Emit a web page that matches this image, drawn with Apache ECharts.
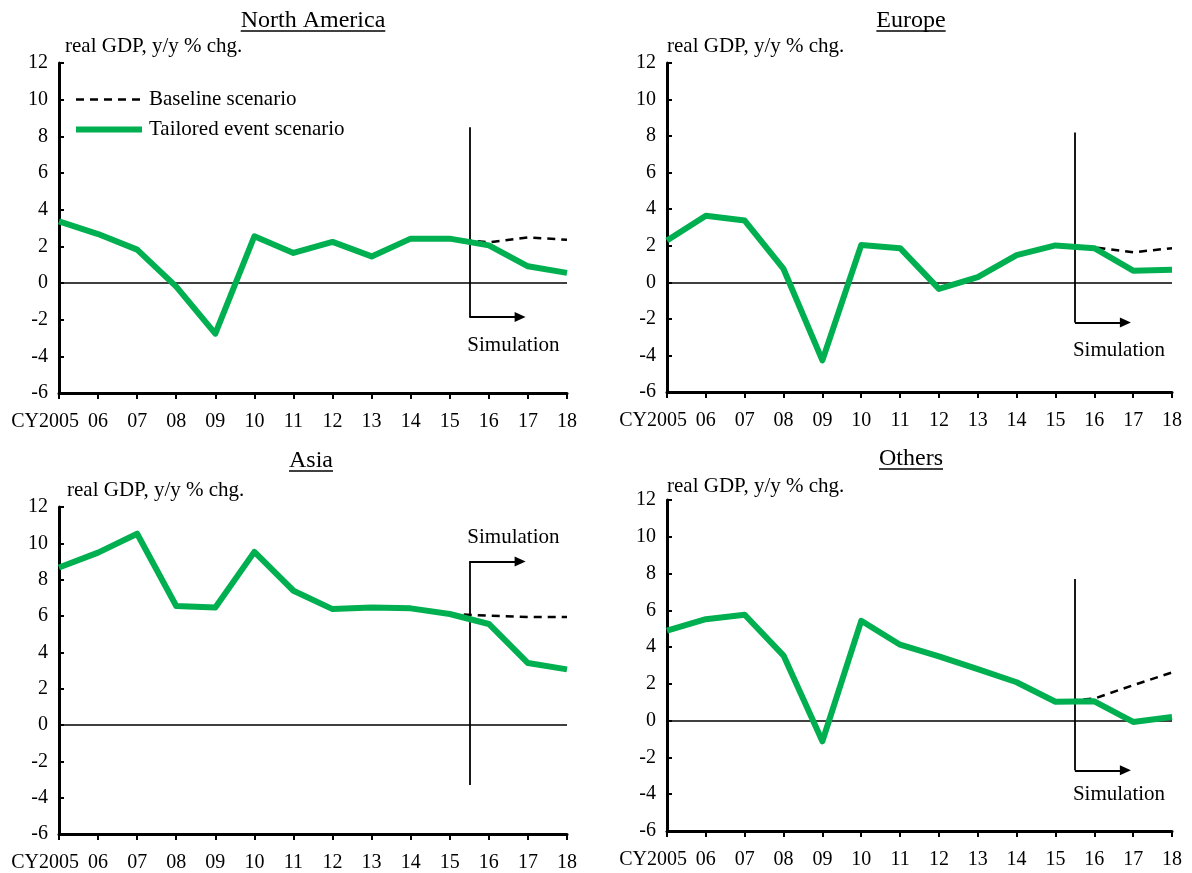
<!DOCTYPE html>
<html>
<head>
<meta charset="utf-8">
<script src="https://cdn.jsdelivr.net/npm/echarts@6/dist/echarts.min.js"></script>
<style>
  html, body { margin: 0; padding: 0; background: #fff; }
  #chart { width: 1192px; height: 873px; }
</style>
</head>
<body>
<div id="chart"></div>
<script>
// Calendar years on the horizontal axis and their tick labels
const years = [2005, 2006, 2007, 2008, 2009, 2010, 2011, 2012, 2013, 2014, 2015, 2016, 2017, 2018];
const yearLabels = ['2005', '06', '07', '08', '09', '10', '11', '12', '13', '14', '15', '16', '17', '18'];
const yearPrefix = 'CY';

// Real GDP, y/y % change — tailored event scenario
const naTailored = [3.36, 2.67, 1.82, -0.20, -2.76, 2.55, 1.64, 2.24, 1.45, 2.42, 2.42, 2.05, 0.91, 0.55];
const euTailored = [2.29, 3.64, 3.38, 0.73, -4.27, 2.04, 1.87, -0.36, 0.29, 1.49, 2.02, 1.87, 0.64, 0.69];
const asTailored = [8.67, 9.49, 10.53, 6.55, 6.47, 9.53, 7.39, 6.38, 6.47, 6.42, 6.11, 5.56, 3.41, 3.06];
const otTailored = [4.89, 5.52, 5.76, 3.54, -1.12, 5.43, 4.13, 3.50, 2.80, 2.09, 1.03, 1.05, -0.07, 0.20];

// Baseline scenario (only the simulation period differs from history)
const naBaseline = [null, null, null, null, null, null, null, null, null, null, 2.42, 2.22, 2.48, 2.36];
const euBaseline = [null, null, null, null, null, null, null, null, null, null, 2.02, 1.92, 1.64, 1.87];
const asBaseline = [null, null, null, null, null, null, null, null, null, null, 6.11, 6.02, 5.94, 5.94];
const otBaseline = [null, null, null, null, null, null, null, null, null, null, 1.03, 1.20, 1.93, 2.62];

// Y axis range and step
const yMin = -6, yMax = 12, yStep = 2;

// "Simulation" bracket: vertical line then arrow, in data units [year, value]
const naSimPath = [[2015.5, 8.5], [2015.5, -1.85], [2016.8, -1.85]];
const euSimPath = [[2015.5, 8.2], [2015.5, -2.2], [2016.8, -2.2]];
const asSimPath = [[2015.5, -3.3], [2015.5, 9.0], [2016.8, 9.0]];
const otSimPath = [[2015.5, 7.7], [2015.5, -2.7], [2016.8, -2.7]];
const naSimText = [2015.45, -3.4];
const euSimText = [2015.45, -3.75];
const asSimText = [2015.45, 10.3];
const otSimText = [2015.45, -4.0];

const FONT = '"Liberation Serif", "Times New Roman", serif';
const GREEN = '#00B050';
const INK = '#000';
const TICK_SIZE = 20;
const X_LABEL_MARGIN = 19;

function measure(str, size) {
  const ctx = document.createElement('canvas').getContext('2d');
  ctx.font = size + 'px ' + FONT;
  return ctx.measureText(str).width;
}

const panels = [
  { title: 'North America', tx: 313, ty: 21, ux: 65, uy: 46,
    grid: { left: 59, top: 63, width: 508, height: 330 },
    tailored: naTailored, baseline: naBaseline, sim: naSimPath, simText: naSimText },
  { title: 'Europe', tx: 911, ty: 21, ux: 667, uy: 46,
    grid: { left: 667, top: 63, width: 505, height: 329 },
    tailored: euTailored, baseline: euBaseline, sim: euSimPath, simText: euSimText },
  { title: 'Asia', tx: 311, ty: 461, ux: 67, uy: 490,
    grid: { left: 59, top: 507, width: 508, height: 327 },
    tailored: asTailored, baseline: asBaseline, sim: asSimPath, simText: asSimText },
  { title: 'Others', tx: 911, ty: 459, ux: 667, uy: 486,
    grid: { left: 667, top: 500, width: 505, height: 331 },
    tailored: otTailored, baseline: otBaseline, sim: otSimPath, simText: otSimText }
];

const grids = [], xAxes = [], yAxes = [], series = [], graphics = [];

panels.forEach((p, i) => {
  grids.push(p.grid);

  xAxes.push({
    type: 'value', gridIndex: i, min: years[0], max: years[years.length - 1], interval: 1,
    axisLine: { onZero: false, lineStyle: { color: INK, width: 3 } },
    axisTick: { show: true, inside: false, length: 6, lineStyle: { color: INK, width: 2 } },
    splitLine: { show: false },
    axisLabel: {
      margin: X_LABEL_MARGIN, color: INK, fontFamily: FONT, fontSize: TICK_SIZE,
      showMinLabel: true, showMaxLabel: true,
      formatter: v => yearLabels[years.indexOf(Math.round(v))]
    }
  });

  yAxes.push({
    type: 'value', gridIndex: i, min: yMin, max: yMax, interval: yStep,
    axisLine: { show: true, onZero: false, lineStyle: { color: INK, width: 3 } },
    axisTick: { show: true, inside: true, length: 5, lineStyle: { color: INK, width: 2 } },
    splitLine: { show: false },
    axisLabel: { margin: 11, color: INK, fontFamily: FONT, fontSize: TICK_SIZE }
  });

  const simMarks = [
    [{ coord: p.sim[0], symbol: 'none' }, { coord: p.sim[1], symbol: 'none' }],
    [{ coord: p.sim[1], symbol: 'none' }, { coord: p.sim[2], symbol: 'triangle', symbolSize: [10, 11] }]
  ];

  series.push({
    name: 'Baseline scenario', type: 'line', xAxisIndex: i, yAxisIndex: i, z: 4,
    data: years.map((y, k) => [y, p.baseline[k]]),
    showSymbol: false, symbol: 'none', connectNulls: false,
    lineStyle: { color: INK, width: 2.5, type: [8, 6] },
    itemStyle: { color: INK },
    markLine: {
      silent: true, symbol: 'none', animation: false,
      label: { show: false },
      data: [
        [{ coord: [years[0], 0], lineStyle: { width: 1.5, color: INK, type: 'solid' } },
         { coord: [years[years.length - 1], 0] }]
      ].concat(simMarks.map(seg => [
        Object.assign({ lineStyle: { width: 1.8, color: INK, type: 'solid' } }, seg[0]), seg[1]
      ])),
      lineStyle: { color: INK, type: 'solid', width: 1.8 }
    },
    markPoint: {
      silent: true, symbol: 'circle', symbolSize: 0, animation: false,
      data: [{
        coord: p.simText,
        label: { show: true, position: 'right', distance: 0, formatter: 'Simulation',
                 color: INK, fontFamily: FONT, fontSize: 21 }
      }]
    }
  });

  series.push({
    name: 'Tailored event scenario', type: 'line', xAxisIndex: i, yAxisIndex: i, z: 10,
    data: years.map((y, k) => [y, p.tailored[k]]),
    showSymbol: false, symbol: 'none',
    lineStyle: { color: GREEN, width: 6, join: 'round' },
    itemStyle: { color: GREEN }
  });

  // Panel title (underlined) and unit caption
  const tw = measure(p.title, 24);
  graphics.push({
    type: 'text', x: p.tx, y: p.ty, silent: true,
    style: { text: p.title, font: '24px ' + FONT, fill: INK,
             align: 'center', verticalAlign: 'middle', textAlign: 'center', textVerticalAlign: 'middle' }
  });
  graphics.push({
    type: 'line', silent: true,
    shape: { x1: p.tx - tw / 2, y1: p.ty + 10, x2: p.tx + tw / 2, y2: p.ty + 10 },
    style: { stroke: INK, lineWidth: 1.5 }
  });
  graphics.push({
    type: 'text', x: p.ux, y: p.uy, silent: true,
    style: { text: 'real GDP, y/y % chg.', font: '21px ' + FONT, fill: INK,
             align: 'left', verticalAlign: 'middle', textAlign: 'left', textVerticalAlign: 'middle' }
  });
});

const chart = echarts.init(document.getElementById('chart'), null, { renderer: 'canvas' });
chart.setOption({
  animation: false,
  backgroundColor: '#fff',
  grid: grids,
  xAxis: xAxes,
  yAxis: yAxes,
  legend: {
    data: ['Baseline scenario', 'Tailored event scenario'],
    orient: 'vertical', left: 68, top: 84,
    itemWidth: 66, itemHeight: 14, itemGap: 9,
    icon: 'inherit',
    itemStyle: { opacity: 0 },
    lineStyle: { width: 'inherit' },
    textStyle: { fontFamily: FONT, fontSize: 21, color: INK, padding: [0, 0, 0, 2] },
    selectedMode: false
  },
  series: series,
  graphic: graphics
});

// "CY" prefix sits just left of the first year label, which stays centred on its tick
const firstHalf = measure(yearLabels[0], TICK_SIZE) / 2;
const prefixes = panels.map((p, i) => {
  const pt = chart.convertToPixel({ xAxisIndex: i, yAxisIndex: i }, [years[0], yMin]);
  return {
    type: 'text', x: pt[0] - firstHalf, y: pt[1] + X_LABEL_MARGIN, silent: true,
    style: { text: yearPrefix, font: TICK_SIZE + 'px ' + FONT, fill: INK,
             align: 'right', verticalAlign: 'top', textAlign: 'right', textVerticalAlign: 'top' }
  };
});
chart.setOption({ graphic: graphics.concat(prefixes) });
</script>
</body>
</html>
